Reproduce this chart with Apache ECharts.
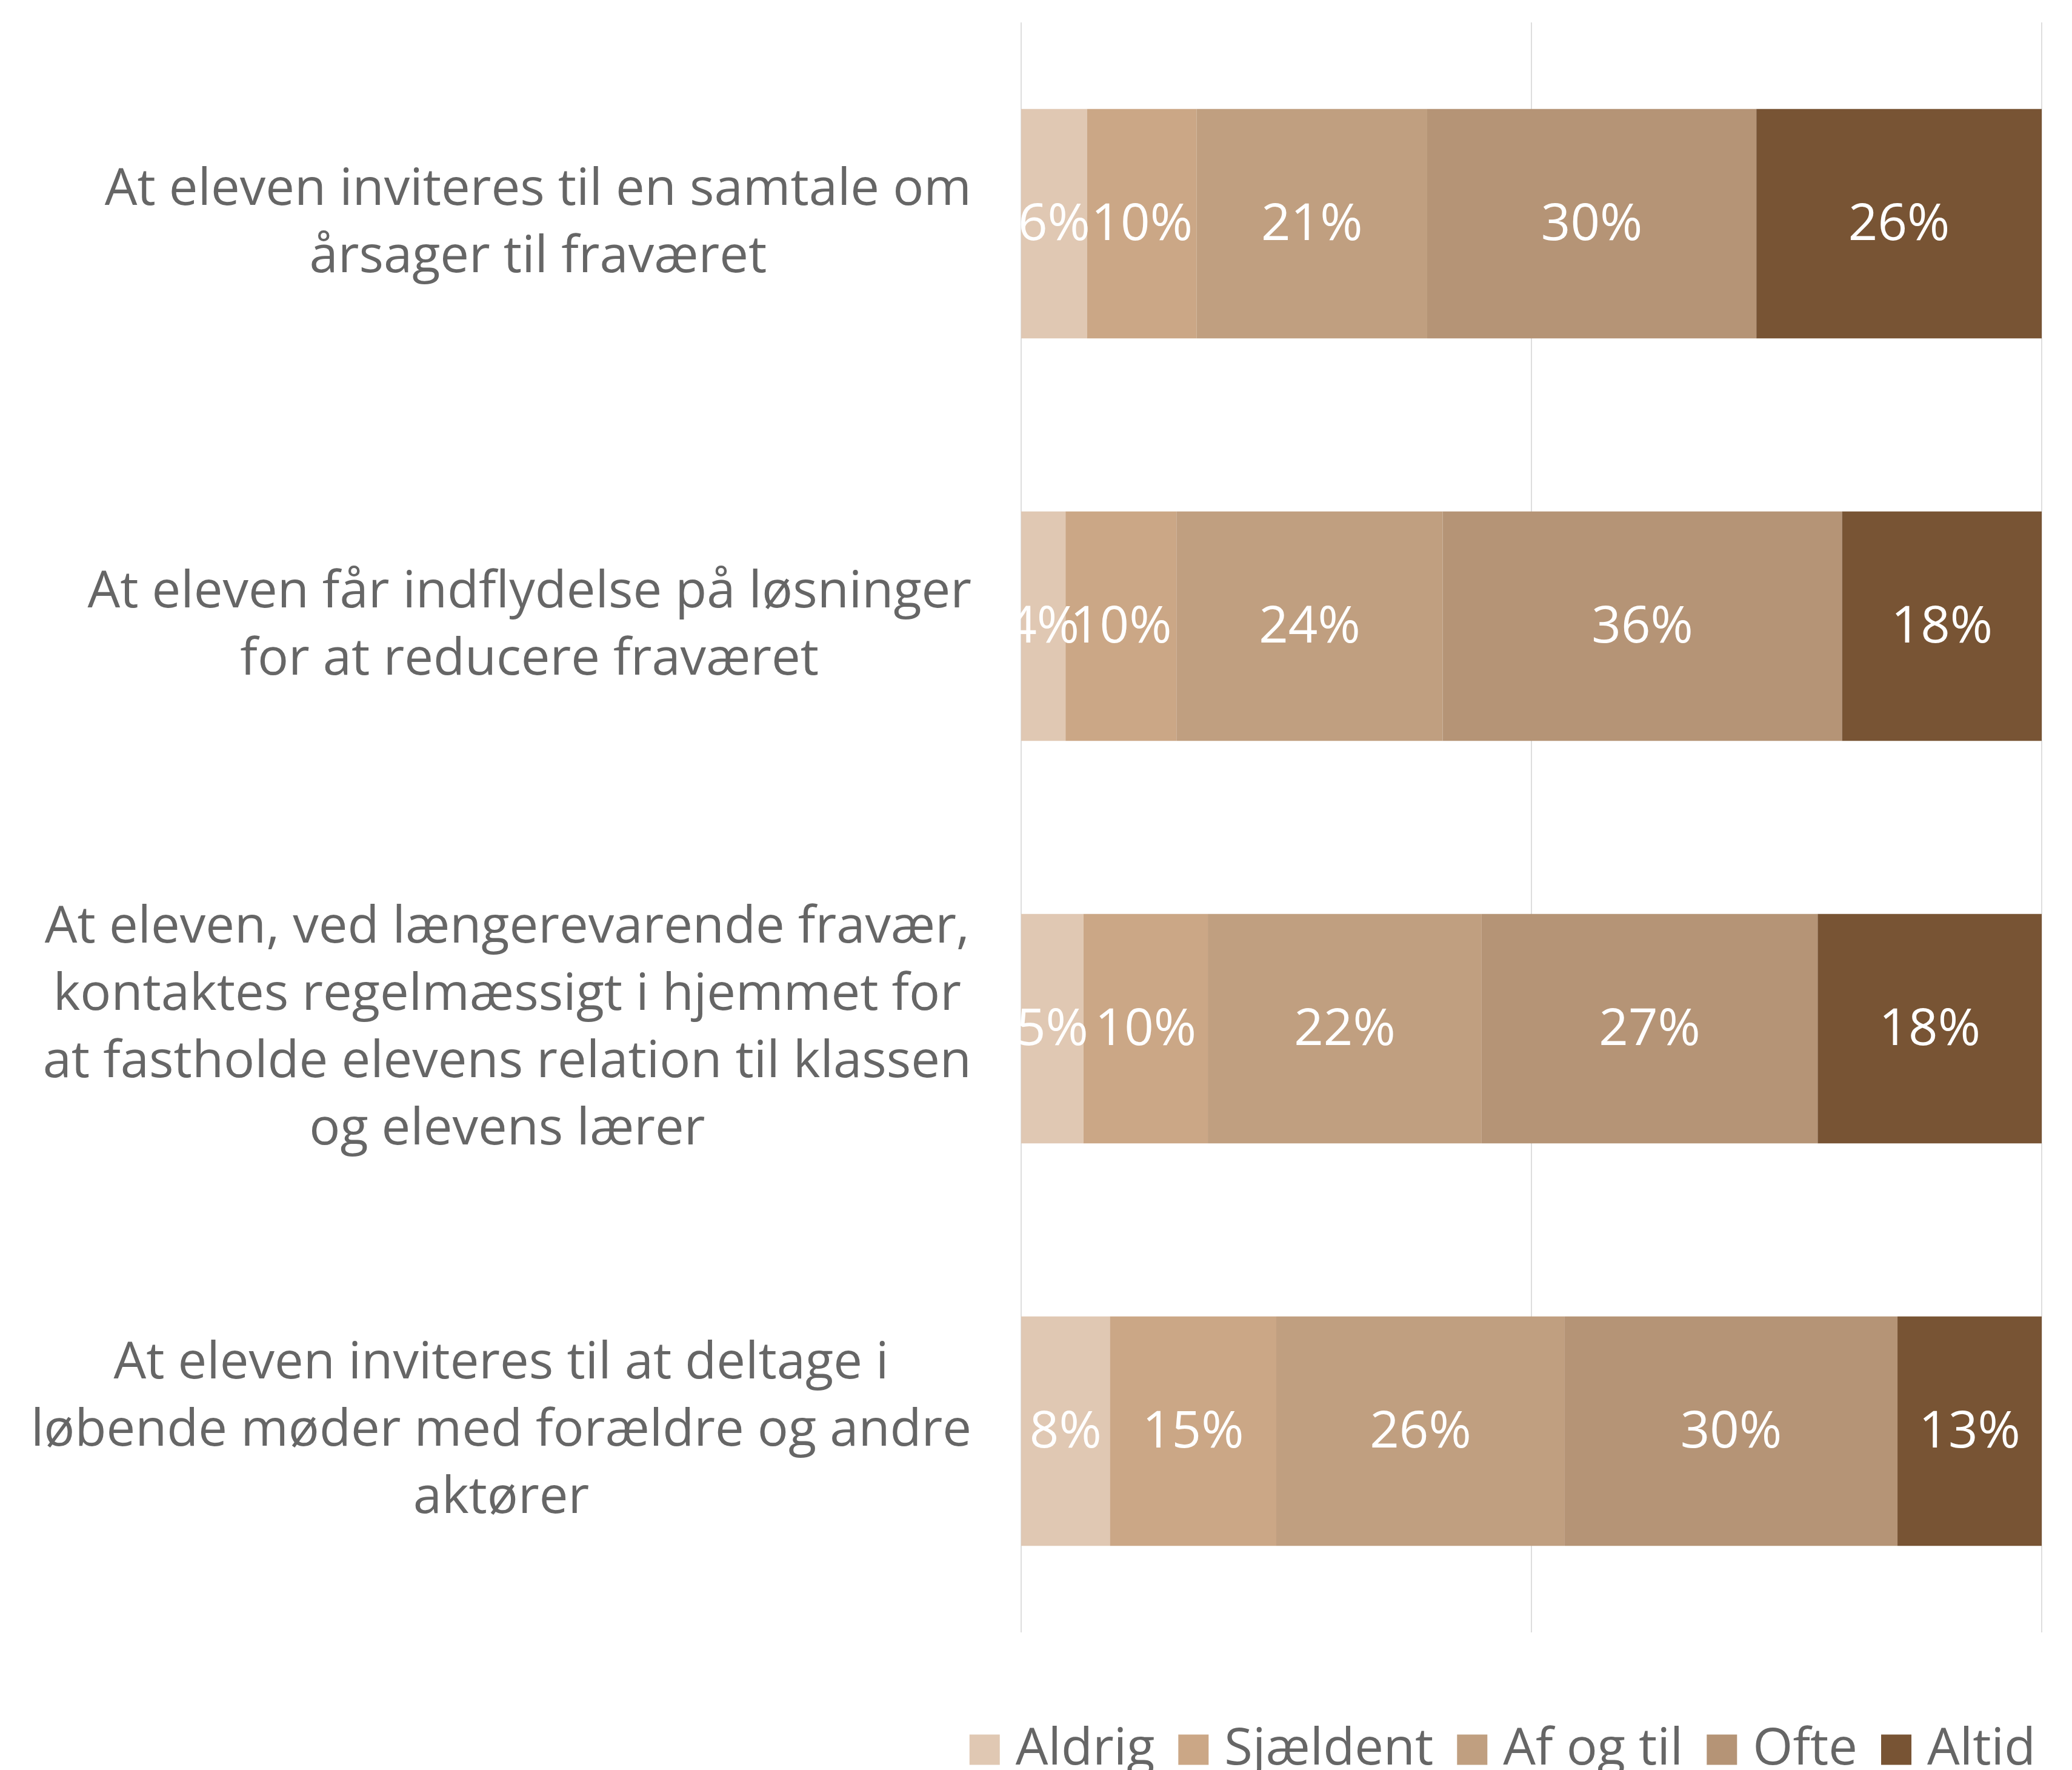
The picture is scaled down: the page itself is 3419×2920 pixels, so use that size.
<!DOCTYPE html>
<html>
<head>
<meta charset="utf-8">
<script src="https://cdn.jsdelivr.net/npm/echarts@6/dist/echarts.min.js"></script>
<style>
html,body{margin:0;padding:0;background:#fff;}
#c{width:3419px;height:2920px;}
</style>
</head>
<body>
<div id="c"></div>
<script>
const categories = [
  'At eleven inviteres til en samtale om\nårsager til fraværet',
  'At eleven får indflydelse på løsninger\nfor at reducere fraværet',
  'At eleven, ved længerevarende fravær,\nkontaktes regelmæssigt i hjemmet for\nat fastholde elevens relation til klassen\nog elevens lærer',
  'At eleven inviteres til at deltage i\nløbende møder med forældre og andre\naktører'
];
const seriesNames = ['Aldrig', 'Sjældent', 'Af og til', 'Ofte', 'Altid'];
const aldrig    = [6, 4, 5, 8];
const sjaeldent = [10, 10, 10, 15];
const afOgTil   = [21, 24, 22, 26];
const ofte      = [30, 36, 27, 30];
const altid     = [26, 18, 18, 13];
const xTicks = [0, 50, 100];

const rawSeries = [aldrig, sjaeldent, afOgTil, ofte, altid];
const colors = ['#e0c8b3', '#cba786', '#c09f80', '#b59476', '#785434'];
const FONT = '"Open Sans"';
const FS = 85;
const TEXT = '#666666';

const totals = categories.map((_, i) => rawSeries.reduce((s, arr) => s + arr[i], 0));

const chart = echarts.init(document.getElementById('c'), null, {renderer: 'canvas'});
chart.setOption({
  animation: false,
  backgroundColor: '#ffffff',
  grid: {left: 1685, right: 50, top: 37, bottom: 227, containLabel: false},
  xAxis: {
    type: 'value', min: xTicks[0], max: xTicks[xTicks.length - 1], interval: 50,
    axisLabel: {show: false}, axisLine: {show: false}, axisTick: {show: false},
    splitLine: {show: true, lineStyle: {color: '#dedede', width: 2}}
  },
  yAxis: {
    type: 'category', data: categories, inverse: true,
    axisLine: {show: false}, axisTick: {show: false},
    axisLabel: {
      margin: 82, align: 'right',
      formatter: v => v.split('\n').map(l => '{c|' + l + '}').join('\n'),
      rich: {c: {align: 'center', fontSize: FS, lineHeight: 111, color: TEXT, fontFamily: FONT}}
    }
  },
  legend: {
    data: seriesNames, right: 55, bottom: -14, icon: 'rect',
    itemWidth: 50, itemHeight: 50, itemGap: 39,
    textStyle: {fontSize: FS, color: TEXT, fontFamily: FONT, padding: [0, 0, 0, 21]}
  },
  series: seriesNames.map((name, si) => ({
    name, type: 'bar', stack: 'total', barWidth: '57%',
    itemStyle: {color: colors[si]},
    label: {
      show: true, position: 'inside', color: '#ffffff', fontSize: FS, fontFamily: FONT,
      offset: [0, 3],
      formatter: p => rawSeries[si][p.dataIndex] + '%'
    },
    data: rawSeries[si].map((v, i) => v / totals[i] * 100)
  }))
});
</script>
</body>
</html>
